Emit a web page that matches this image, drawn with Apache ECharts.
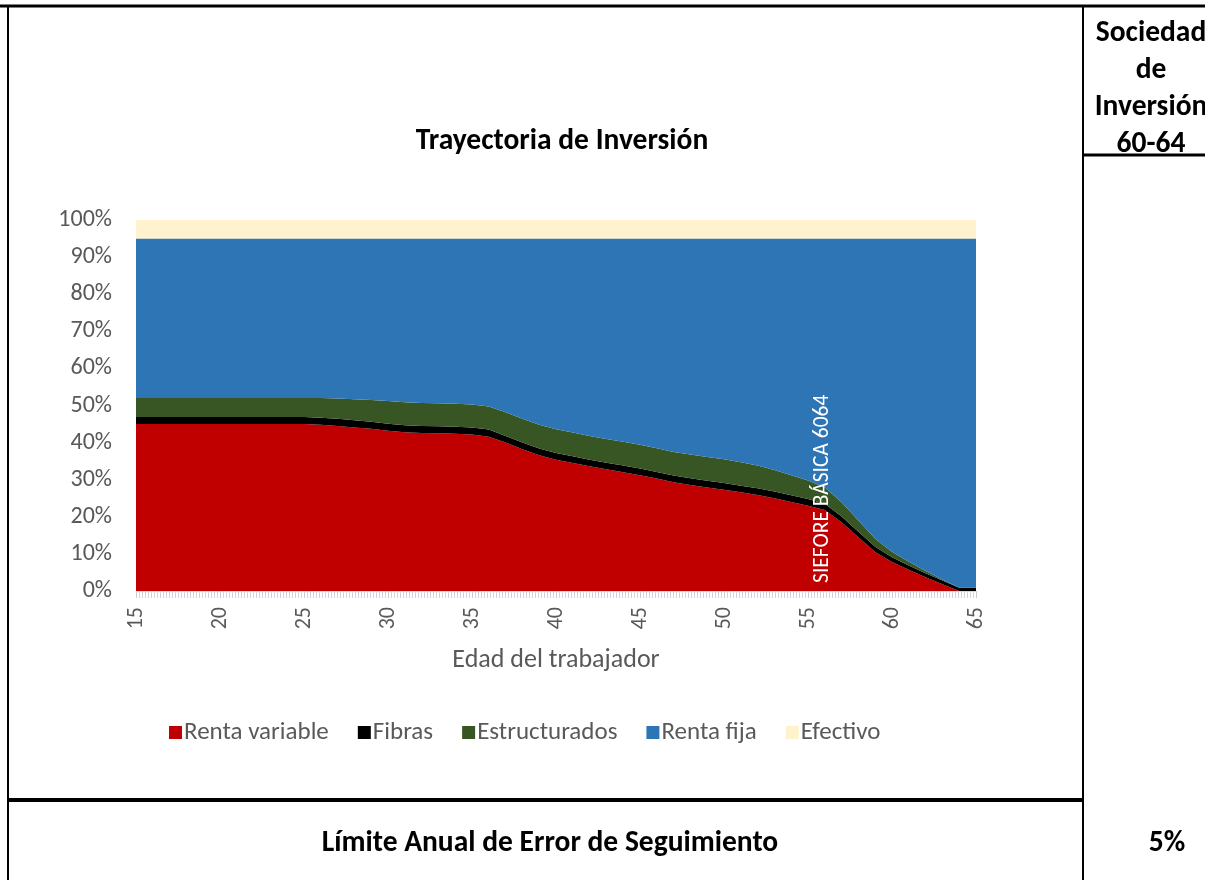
<!DOCTYPE html>
<html>
<head>
<meta charset="utf-8">
<script src="https://cdn.jsdelivr.net/npm/echarts@6/dist/echarts.min.js"></script>
<style>
html,body{margin:0;padding:0;background:#fff;}
#c{width:1205px;height:880px;}
</style>
</head>
<body>
<div id="c"></div>
<script>
const ages = [15,16,17,18,19,20,21,22,23,24,25,26,27,28,29,30,31,32,33,34,35,36,37,38,39,40,41,42,43,44,45,46,47,48,49,50,51,52,53,54,55,56,57,58,59,60,61,62,63,64,65];
const rentaVariable = [45,45,45,45,45,45,45,45,45,45,45,44.8,44.5,44.1,43.7,43.2,42.8,42.6,42.5,42.4,42.2,41.6,40,38.2,36.6,35.4,34.5,33.6,32.8,32,31.2,30.3,29.3,28.6,27.9,27.3,26.6,25.9,25,24,23,21.8,18.5,14.5,10.5,7.8,5.7,3.7,1.8,0,0];
const fibras = [1.9,1.9,1.9,1.9,1.9,1.9,1.9,1.9,1.9,1.9,1.9,1.9,1.9,1.9,1.9,1.9,1.9,1.9,1.9,1.9,1.9,1.9,1.8,1.8,1.8,1.8,1.8,1.8,1.8,1.8,1.8,1.8,1.8,1.8,1.8,1.8,1.8,1.8,1.8,1.8,1.8,1.7,1.6,1.5,1.4,1.3,1.2,1.1,1,0.9,0.9];
const estructurados = [5.1,5.1,5.1,5.1,5.1,5.1,5.1,5.1,5.1,5.1,5.1,5.3,5.5,5.7,5.9,6.1,6.2,6.2,6.2,6.2,6.2,6.2,6.4,6.4,6.4,6.4,6.4,6.4,6.4,6.4,6.4,6.4,6.4,6.4,6.4,6.4,6.3,6.1,5.8,5.4,5,4.4,3.8,3,2.2,1.5,1,0.6,0.3,0,0];
const rentaFija = [43,43,43,43,43,43,43,43,43,43,43,43,43.1,43.3,43.5,43.8,44.1,44.3,44.4,44.5,44.7,45.3,46.8,48.6,50.2,51.4,52.3,53.2,54,54.8,55.6,56.5,57.5,58.2,58.9,59.5,60.3,61.2,62.4,63.8,65.2,67.1,71.1,76,80.9,84.4,87.1,89.6,91.9,94.1,94.1];
const efectivo = [5,5,5,5,5,5,5,5,5,5,5,5,5,5,5,5,5,5,5,5,5,5,5,5,5,5,5,5,5,5,5,5,5,5,5,5,5,5,5,5,5,5,5,5,5,5,5,5,5,5,5];
const seriesNames = ['Renta variable','Fibras','Estructurados','Renta fija','Efectivo'];
const xTicks = [15,20,25,30,35,40,45,50,55,60,65];
const yTicks = [0,10,20,30,40,50,60,70,80,90,100];
const annotation = 'SIEFORE BÁSICA 6064';
const annotationAge = 56.0;

const FONT = "Carlito, 'Liberation Sans Narrow', 'Open Sans', sans-serif";
const colors = ['#C00000','#000000','#375623','#2E75B6','#FFF2CC'];
const allData = [rentaVariable, fibras, estructurados, rentaFija, efectivo];

const chart = echarts.init(document.getElementById('c'), null, {renderer:'canvas'});

const series = seriesNames.map((name, i) => ({
  name: name,
  type: 'line',
  stack: 'total',
  xAxisIndex: 1,
  data: allData[i],
  showSymbol: false,
  symbol: 'none',
  lineStyle: {width: 0},
  areaStyle: {color: colors[i], opacity: 1},
  itemStyle: {color: colors[i]},
  emphasis: {disabled: true},
  z: 2
}));

series.push({
  name: 'annotation',
  type: 'line',
  xAxisIndex: 0,
  data: [[annotationAge, 0]],
  showSymbol: false,
  symbol: 'none',
  lineStyle: {width: 0},
  silent: true,
  z: 6,
  markLine: {
    silent: true,
    symbol: ['none','none'],
    lineStyle: {color: 'rgba(0,0,0,0)', width: 1, type: 'solid'},
    label: {
      show: true,
      position: 'insideStartTop',
      formatter: annotation,
      color: '#ffffff',
      fontFamily: FONT,
      fontSize: 21.5,
      distance: [8, -9]
    },
    data: [{xAxis: annotationAge}]
  }
});

const option = {
  animation: false,
  backgroundColor: '#ffffff',
  textStyle: {fontFamily: FONT},
  grid: {left: 136, right: 229, top: 220, bottom: 289, containLabel: false},
  xAxis: [{
    type: 'value',
    min: 15, max: 65, interval: 5,
    name: 'Edad del trabajador',
    nameLocation: 'middle',
    nameGap: 56,
    nameTextStyle: {color: '#595959', fontSize: 26, fontFamily: FONT},
    axisLine: {show: true, lineStyle: {color: '#d9d9d9'}},
    axisTick: {show: true, length: 7, lineStyle: {color: '#c8ccd4'}},
    minorTick: {show: true, splitNumber: 28, length: 7, lineStyle: {color: '#d2d6dc'}},
    splitLine: {show: false},
    axisLabel: {
      rotate: 90, color: '#595959', fontSize: 22, fontFamily: FONT, margin: 16,
      formatter: v => xTicks.includes(v) ? String(v) : ''
    },
    z: 3
  }, {
    type: 'category',
    data: ages,
    boundaryGap: false,
    show: false
  }],
  yAxis: {
    type: 'value',
    min: 0, max: 100, interval: 10,
    axisLine: {show: false},
    axisTick: {show: false},
    splitLine: {show: false},
    axisLabel: {
      color: '#595959', fontSize: 24, fontFamily: FONT, margin: 24,
      formatter: v => yTicks.includes(v) ? v + '%' : ''
    }
  },
  legend: {
    data: seriesNames,
    left: 164, top: 715,
    icon: 'rect',
    itemWidth: 13, itemHeight: 13,
    itemGap: 29,
    textStyle: {color: '#595959', fontSize: 25, fontFamily: FONT, padding: [0,0,0,-3]},
    selectedMode: false
  },
  title: [
    {text: 'Trayectoria de Inversión', left: 557, top: 122, textAlign: 'center',
      textStyle: {fontFamily: FONT, fontWeight: 'bold', fontSize: 29.5, color: '#000'}},
    {text: 'Sociedad\nde\nInversión\n60-64', left: 1146, top: 10, textAlign: 'center',
      textStyle: {fontFamily: FONT, fontWeight: 'bold', fontSize: 29.5, lineHeight: 37, color: '#000'}},
    {text: 'Límite Anual de Error de Seguimiento', left: 545, top: 824, textAlign: 'center',
      textStyle: {fontFamily: FONT, fontWeight: 'bold', fontSize: 29.5, color: '#000'}},
    {text: '5%', left: 1162, top: 824, textAlign: 'center',
      textStyle: {fontFamily: FONT, fontWeight: 'bold', fontSize: 29.5, color: '#000'}}
  ],
  graphic: [
    {type: 'line', shape: {x1: 0, y1: 6, x2: 1205, y2: 6}, style: {stroke: '#000', lineWidth: 3}},
    {type: 'line', shape: {x1: 8, y1: 5, x2: 8, y2: 880}, style: {stroke: '#000', lineWidth: 2}},
    {type: 'line', shape: {x1: 1083, y1: 5, x2: 1083, y2: 880}, style: {stroke: '#000', lineWidth: 2}},
    {type: 'line', shape: {x1: 1082, y1: 155, x2: 1205, y2: 155}, style: {stroke: '#000', lineWidth: 3}},
    {type: 'line', shape: {x1: 7, y1: 800, x2: 1084, y2: 800}, style: {stroke: '#000', lineWidth: 4}}
  ],
  series: series
};
chart.setOption(option);
</script>
</body>
</html>
